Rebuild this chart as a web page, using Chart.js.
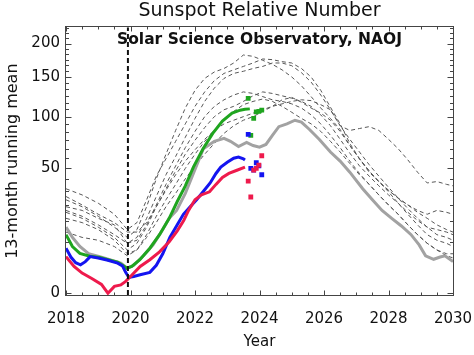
<!DOCTYPE html>
<html><head><meta charset="utf-8">
<script src="https://cdn.jsdelivr.net/npm/chart.js@4.4.1/dist/chart.umd.min.js"></script>
<style>html,body{margin:0;padding:0;background:#fff;}canvas{display:block;}</style>
</head><body>
<canvas id="c" width="474" height="355"></canvas>
<script>
// ---------- data (values in sunspot number units) ----------
const xTickYears = [2018, 2020, 2022, 2024, 2026, 2028, 2030];
const yTickValues = [0, 50, 100, 150, 200];
const minimumYear = 2019.92;

const grayYears = [2018.0, 2018.2, 2018.43, 2018.7, 2019.05, 2019.36, 2019.7, 2019.9, 2020.1, 2020.4, 2020.7, 2021.0, 2021.2, 2021.43, 2021.7, 2021.95, 2022.26, 2022.6, 2022.9, 2023.1, 2023.35, 2023.6, 2023.8, 2024.0, 2024.2, 2024.4, 2024.6, 2024.85, 2025.1, 2025.3, 2025.55, 2025.85, 2026.2, 2026.5, 2026.8, 2027.2, 2027.5, 2027.8, 2028.1, 2028.4, 2028.7, 2028.95, 2029.15, 2029.4, 2029.6, 2029.75, 2030.0];
const grayValues = [14, 10, 7, 5, 4.3, 3.6, 2.9, 2.0, 2.5, 4.5, 7.5, 13, 18, 22, 32, 46, 67, 74, 77, 74, 69, 73, 70, 68.5, 71, 80, 89, 92, 96, 94, 86, 76, 64, 56, 47, 35, 28, 22, 18, 14.5, 11, 7.5, 4.5, 3.7, 4.2, 4.5, 3.2];

const greenYears = [2018.0, 2018.2, 2018.43, 2018.74, 2019.05, 2019.36, 2019.6, 2019.73, 2019.88, 2020.04, 2020.29, 2020.6, 2020.9, 2021.2, 2021.45, 2021.7, 2021.95, 2022.25, 2022.55, 2022.85, 2023.15, 2023.4, 2023.55, 2023.7];
const greenValues = [11, 7, 5.1, 4.4, 4.1, 3.5, 3.1, 2.6, 2.0, 2.3, 3.6, 6.5, 11, 18, 27, 37, 51, 67, 82, 95, 104, 107.5, 108.5, 109];

const blueYears = [2018.0, 2018.15, 2018.3, 2018.45, 2018.6, 2018.75, 2019.0, 2019.3, 2019.6, 2019.75, 2019.85, 2019.95, 2020.1, 2020.3, 2020.6, 2020.8, 2021.0, 2021.22, 2021.45, 2021.64, 2021.85, 2022.05, 2022.25, 2022.47, 2022.65, 2022.8, 2023.0, 2023.2, 2023.35, 2023.5, 2023.55];
const blueValues = [6.5, 4.2, 3.0, 2.6, 3.2, 4.3, 4.0, 3.5, 2.9, 2.4, 1.4, 0.8, 0.9, 1.1, 1.4, 2.5, 5, 10, 15, 20, 24, 28, 33, 39, 46, 51, 55, 58.5, 59.5, 58, 57];

const redYears = [2018.0, 2018.25, 2018.5, 2018.8, 2019.1, 2019.3, 2019.5, 2019.7, 2019.85, 2020.0, 2020.3, 2020.6, 2020.9, 2021.2, 2021.45, 2021.65, 2021.8, 2022.0, 2022.2, 2022.45, 2022.65, 2022.85, 2023.05, 2023.3, 2023.55];
const redValues = [4.3, 2.3, 1.3, 0.7, 0.25, 0.0, 0.15, 0.22, 0.45, 0.9, 2.3, 3.6, 5.5, 8.5, 12.5, 17, 22, 28, 31, 33, 38, 43, 46, 48.5, 51];

const monthlyYears = [2023.65, 2023.73, 2023.82, 2023.9, 2023.98, 2024.07];
const greenMonthly = [121.7, 80, 98, 105.5, 106, 107.5];
const blueMonthly = [81, 50, 48.6, 54.6, 52, 45];
const redMonthly = [40.3, 29.7, 48.6, 50, 52.7, 60.6];

const pastCycleYears = [2018, 2018.5, 2019, 2019.5, 2019.9, 2020.2, 2020.5, 2020.8, 2021.1, 2021.4, 2021.7, 2022.0, 2022.3, 2022.6, 2022.9, 2023.2, 2023.5, 2023.8, 2024.1, 2024.4, 2024.7, 2025.0, 2025.3, 2025.6, 2025.9, 2026.2, 2026.5, 2026.8, 2027.1, 2027.4, 2027.7, 2028.0, 2028.3, 2028.6, 2028.9, 2029.2, 2029.5, 2029.8, 2030.0];
const pastCycleA = [28,24,19,14,10,13,24,42,62,85, 110,132,148,157,162,170,182,180,174,168, 160,150,138,124,110,98,86,70,58,47, 40,34,29,25,21,18,15,13,12];
const pastCycleB = [35,31,26,20,13,16,28,44,58,74, 92,112,130,145,155,160,165,170,176,175, 172,170,162,150,132,111,92,72,58,48, 40,34,29,25,22,20,22,21,20];
const pastCycleC = [24,22,18,15,8,10,18,30,45,60, 78,98,118,135,148,155,158,162,165,170, 170,166,156,143,126,108,90,76,64,53, 44,36,29,23,18,14,11,10,9];
const pastCycleD = [21,18,14,10,6,8,14,24,35,48, 62,75,88,100,108,112,118,125,130,128, 125,122,118,112,102,90,76,63,52,44, 37,31,26,21,17,14,13,12,11];
const pastCycleE = [30,25,20,16,12,12,16,24,34,45, 56,66,76,85,92,96,100,104,108,112, 115,118,120,119,114,108,90,85,87,89, 85,76,67,57,47,39,40,38,37];
const pastCycleF = [12,10,9,7,4.5,6,10,16,24,32, 42,52,62,72,82,90,96,100,106,112, 120,123,117,110,104,96,84,70,58,48, 40,33,26,20,15,11,9,8,7];
const pastCycleG = [22,19,15,11,8,9,15,25,38,52, 68,84,100,112,120,126,130,128,124,120, 118,115,110,102,92,80,68,56,46,38, 31,25,20,15,11,8,6,4.5,4];
const pastCycleH = [18,16,13,9,5,6,11,19,28,38, 50,62,74,85,96,106,114,118,121,118, 112,105,98,92,84,74,64,54,45,38, 31,25,20,15,11,8,6,5,5];
const pastCycles = [pastCycleA, pastCycleB, pastCycleC, pastCycleD, pastCycleE, pastCycleF, pastCycleG, pastCycleH];

// ---------- helpers ----------
const Y_MIN = -0.1, Y_MAX = 15.06;          // axis range in sqrt units
const sq = v => Math.sqrt(Math.max(v, 0));
const pts = (xs, vs) => xs.map((x, i) => ({x: x, y: sq(vs[i])}));

const datasets = [];
pastCycles.forEach(c => datasets.push({
  data: pts(pastCycleYears, c), borderColor: '#575757', borderWidth: 1,
  borderDash: [4, 3], pointRadius: 0, order: 20
}));
datasets.push({data: pts(grayYears, grayValues), borderColor: '#a2a2a2', borderWidth: 3, pointRadius: 0, order: 10});
datasets.push({data: pts(greenYears, greenValues), borderColor: '#1fa51f', borderWidth: 3, pointRadius: 0, order: 9});
datasets.push({data: pts(blueYears, blueValues), borderColor: '#1414f0', borderWidth: 3, pointRadius: 0, order: 8});
datasets.push({data: pts(redYears, redValues), borderColor: '#ee1a4c', borderWidth: 3, pointRadius: 0, order: 7});
const sqStyle = c => ({showLine: false, pointStyle: 'rect', pointRadius: 3.4, pointBorderWidth: 0,
  pointBackgroundColor: c, borderColor: c, backgroundColor: c});
datasets.push(Object.assign({data: pts(monthlyYears, greenMonthly), order: 5}, sqStyle('#1fa51f')));
datasets.push(Object.assign({data: pts(monthlyYears, blueMonthly), order: 4}, sqStyle('#1414f0')));
datasets.push(Object.assign({data: pts(monthlyYears, redMonthly), order: 3}, sqStyle('#ee1a4c')));
datasets.push({data: [{x: minimumYear, y: Y_MIN}, {x: minimumYear, y: Y_MAX}],
  borderColor: '#111', borderWidth: 2, borderDash: [5, 3], pointRadius: 0, order: 1});

// ---------- frame, inward ticks, inner label ----------
const framePlugin = {
  id: 'frame',
  afterDraw(chart) {
    const {ctx, chartArea: a, scales: {x, y}} = chart;
    ctx.save();
    ctx.strokeStyle = '#444';
    ctx.lineWidth = 1;
    const L = Math.round(a.left) - 0.5, R = Math.round(a.right) + 0.5;
    const T = Math.round(a.top) - 0.5, B = Math.round(a.bottom) + 0.5;
    ctx.strokeRect(L, T, R - L, B - T);
    ctx.beginPath();
    for (let yr = 2018; yr <= 2030.001; yr += 0.5) {
      const px = Math.round(x.getPixelForValue(yr)) + 0.5;
      const len = (Math.abs(yr % 2) < 1e-6) ? 5 : 3;
      ctx.moveTo(px, B); ctx.lineTo(px, B - len);
      ctx.moveTo(px, T); ctx.lineTo(px, T + len);
    }
    for (let k = 0; k <= 27; k++) {
      const v = k * 50 / 6;
      const py = Math.round(y.getPixelForValue(Math.sqrt(v))) + 0.5;
      if (py < a.top) continue;
      const len = (k % 6 === 0) ? 6 : 3.5;
      ctx.moveTo(L, py); ctx.lineTo(L + len, py);
      ctx.moveTo(R, py); ctx.lineTo(R - len, py);
    }
    ctx.stroke();
    ctx.fillStyle = '#111';
    ctx.font = 'bold 15.5px "DejaVu Sans"';
    ctx.textAlign = 'center';
    ctx.textBaseline = 'middle';
    ctx.fillText('Solar Science Observatory, NAOJ', (a.left + a.right) / 2, 39.5);
    ctx.restore();
  }
};

new Chart(document.getElementById('c'), {
  type: 'line',
  data: {datasets: datasets},
  plugins: [framePlugin],
  options: {
    responsive: false,
    animation: false,
    devicePixelRatio: 1,
    layout: {padding: {left: 0, right: 21, top: 0, bottom: 0}},
    elements: {line: {tension: 0, fill: false}},
    plugins: {
      legend: {display: false},
      tooltip: {enabled: false},
      title: {
        display: true, fullSize: false, text: 'Sunspot Relative Number', color: '#111',
        font: {family: 'DejaVu Sans', size: 19, weight: 'normal', lineHeight: 1.0},
        padding: {top: 1.5, bottom: 6.8}
      }
    },
    scales: {
      x: {
        type: 'linear', min: 2018, max: 2030,
        afterFit: s => { s.height = 60; s.paddingLeft = 0; s.paddingRight = 0; },
        afterBuildTicks: s => { s.ticks = xTickYears.map(v => ({value: v})); },
        grid: {display: false, drawTicks: false},
        border: {display: false},
        ticks: {callback: v => String(v), color: '#111', padding: 15, maxRotation: 0, autoSkip: false,
          font: {family: 'DejaVu Sans', size: 15}},
        title: {display: true, text: 'Year', color: '#111', font: {family: 'DejaVu Sans', size: 15},
          padding: {top: 0, bottom: 4}}
      },
      y: {
        type: 'linear', min: Y_MIN, max: Y_MAX,
        afterFit: s => { s.width = 66; },
        afterBuildTicks: s => { s.ticks = yTickValues.map(v => ({value: Math.sqrt(v)})); },
        grid: {display: false, drawTicks: false},
        border: {display: false},
        ticks: {callback: v => String(Math.round(v * v)), color: '#111', padding: 6, autoSkip: false,
          font: {family: 'DejaVu Sans', size: 15}},
        title: {display: true, text: '13-month running mean', color: '#111',
          font: {family: 'DejaVu Sans', size: 16}, padding: {top: 3, bottom: 0}}
      }
    }
  }
});
</script>
</body></html>
